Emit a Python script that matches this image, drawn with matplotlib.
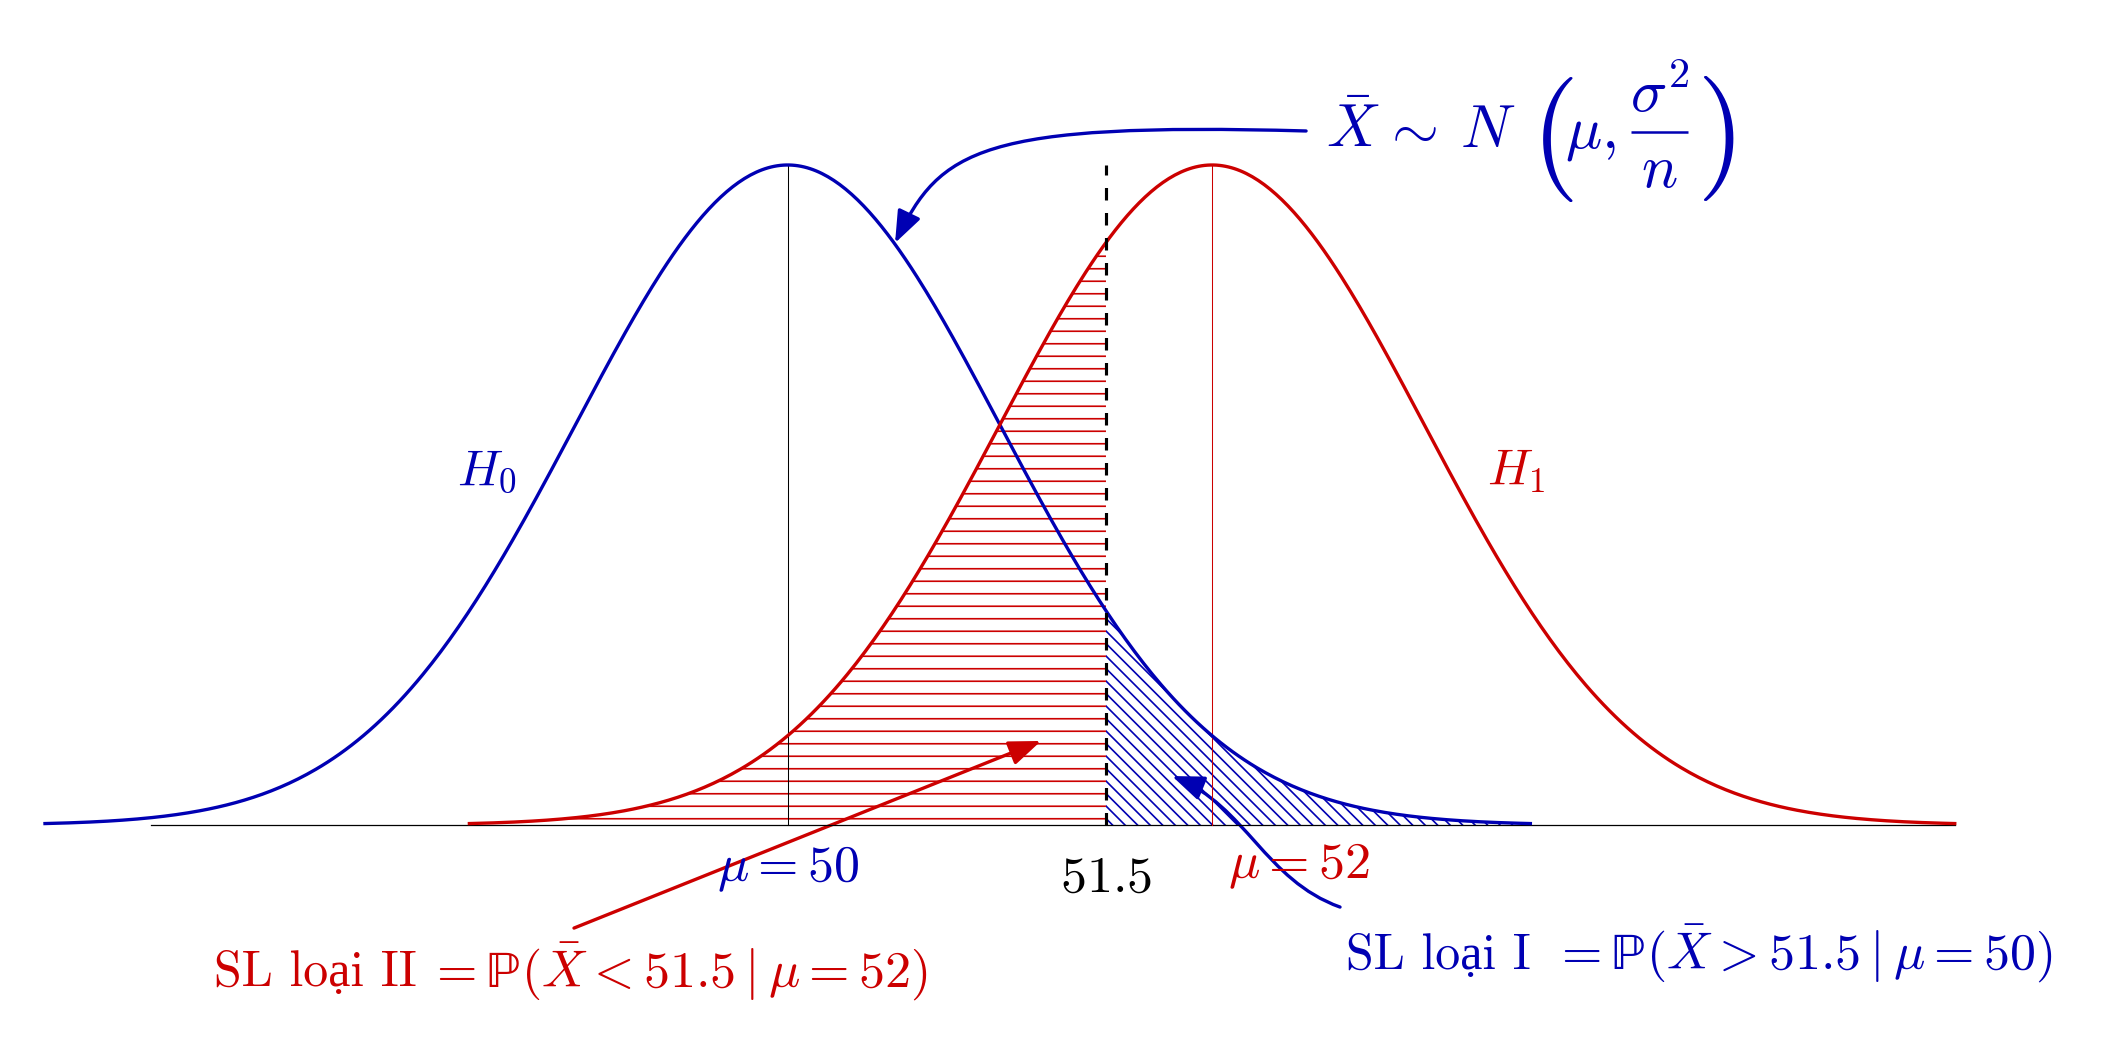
import numpy as np
import matplotlib.pyplot as plt
from matplotlib.patches import FancyArrowPatch
from matplotlib.path import Path

plt.rcParams['mathtext.fontset'] = 'cm'
plt.rcParams['font.family'] = ['cmr10', 'Liberation Serif', 'DejaVu Serif']
plt.rcParams['axes.unicode_minus'] = False
plt.rcParams['hatch.linewidth'] = 0.8

# tham so
mu0, mu1, sigma = 50, 52, 1
crit = 51.5
h0_range = [46.5, 53.5]
h1_range = [48.5, 55.5]
axis_range = [47, 55.5]

blue = '#0000b3'
red = '#cc0000'

# cac mui ten (toa do du lieu)
arrow_dist = [(52.443, 0.4195), (50.906, 0.4249), (50.718, 0.4080), (50.506, 0.3518)]
arrow_type1 = [(52.603, -0.0496), (52.249, -0.0333), (52.160, 0.0115), (51.811, 0.0296)]
arrow_type2 = [(48.993, -0.0623), (51.194, 0.0508)]


def pdf(x, mu):
    return np.exp(-(x - mu) ** 2 / (2 * sigma ** 2)) / (sigma * np.sqrt(2 * np.pi))


fig = plt.figure(figsize=(2119 / 150, 1055 / 150), dpi=150)
ax = fig.add_axes([0, 0, 1, 1])
ax.set_xlim(46.288, 56.274)
ax.set_ylim(-0.13902, 0.49867)
ax.axis('off')

# truc hoanh
ax.plot(axis_range, [0, 0], color='black', lw=0.6)

# vung gach
xr = np.linspace(h1_range[0], crit, 300)
ax.fill_between(xr, 0, pdf(xr, mu1), facecolor='none', edgecolor=red, hatch='--', lw=0)
xb = np.linspace(crit, h0_range[1], 300)
ax.fill_between(xb, 0, pdf(xb, mu0), facecolor='none', edgecolor=blue, hatch='\\\\\\\\', lw=0)

# duong thang dung
peak = pdf(mu0, mu0)
ax.plot([mu0, mu0], [0, peak], color='black', lw=0.5)
ax.plot([mu1, mu1], [0, peak], color=red, lw=0.5)

# hai duong cong
x0 = np.linspace(*h0_range, 500)
x1 = np.linspace(*h1_range, 500)
ax.plot(x0, pdf(x0, mu0), color=blue, lw=1.6)
ax.plot(x1, pdf(x1, mu1), color=red, lw=1.6)

ax.plot([crit, crit], [0, peak], color='black', lw=1.5, linestyle=(0, (4, 4)))

# chu
fs = 25
ax.text(mu0, -0.0339, r'$\mu = 50$', color=blue, fontsize=fs, ha='center', va='baseline')
ax.text(crit, -0.0405, r'$51.5$', color='black', fontsize=fs, ha='center', va='baseline')
ax.text(52.408, -0.0320, r'$\mu = 52$', color=red, fontsize=fs, ha='center', va='baseline')
ax.text(48.442, 0.2061, r'$H_0$', color=blue, fontsize=24, ha='left', va='baseline')
ax.text(53.295, 0.2061, r'$H_1$', color=red, fontsize=24, ha='left', va='baseline')

# cong thuc phan phoi, ghep tung phan
fbase = 0.4098
ax.text(52.537, fbase, r'$\bar{X}$', color=blue, fontsize=29, ha='left', va='baseline')
ax.text(52.797, fbase, r'$\sim$', color=blue, fontsize=29, ha='left', va='baseline')
ax.text(53.169, fbase, r'$N$', color=blue, fontsize=29, ha='left', va='baseline')
ax.text(53.500, 0.3956, r'$($', color=blue, fontsize=60, ha='left', va='baseline')
ax.text(53.663, fbase, r'$\mu,$', color=blue, fontsize=29, ha='left', va='baseline')
ax.plot([53.974, 54.243], [0.4189, 0.4189], color=blue, lw=1.2, solid_capstyle='butt')
ax.text(54.108, 0.4310, r'$\sigma^2$', color=blue, fontsize=29, ha='center', va='baseline')
ax.text(54.108, 0.3856, r'$n$', color=blue, fontsize=29, ha='center', va='baseline')
ax.text(54.280, 0.3956, r'$)$', color=blue, fontsize=60, ha='left', va='baseline')

# nhan sai lam
ax.text(48.250, -0.0976, 'SL loại II', color=red, fontsize=24, ha='right', va='baseline')
ax.text(48.300, -0.0976, r'$= \mathrm{ℙ}(\bar{X} < 51.5 \mid \mu = 52)$',
        color=red, fontsize=fs, ha='left', va='baseline')
ax.text(53.500, -0.0870, 'SL loại I', color=blue, fontsize=24, ha='right', va='baseline')
ax.text(53.600, -0.0870, r'$= \mathrm{ℙ}(\bar{X} > 51.5 \mid \mu = 50)$',
        color=blue, fontsize=fs, ha='left', va='baseline')

# mui ten
style = '-|>,head_length=1.3,head_width=0.5'
for pts, c in [(arrow_dist, blue), (arrow_type1, blue)]:
    p = Path(pts, [Path.MOVETO, Path.CURVE4, Path.CURVE4, Path.CURVE4])
    ax.add_patch(FancyArrowPatch(path=p, arrowstyle=style, mutation_scale=10,
                                 color=c, lw=1.6))
ax.add_patch(FancyArrowPatch(arrow_type2[0], arrow_type2[1], arrowstyle=style,
                             mutation_scale=10, color=red, lw=1.6, shrinkA=0, shrinkB=0))

fig.savefig('out.png', dpi=150)
